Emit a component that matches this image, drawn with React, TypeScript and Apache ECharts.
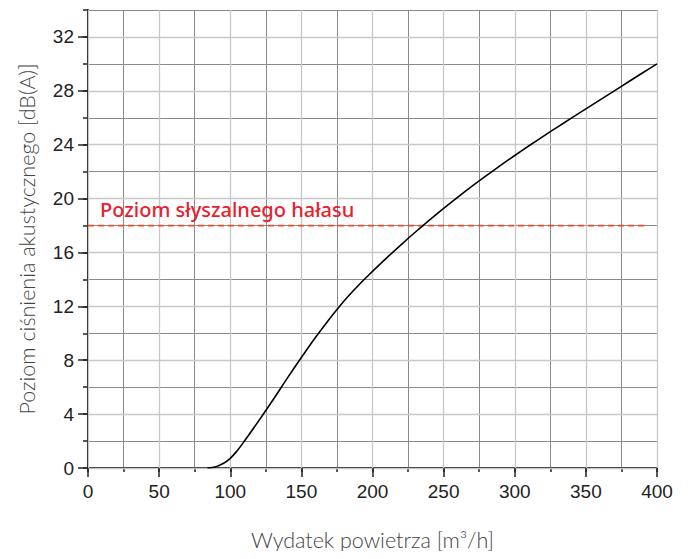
import React, { useEffect, useRef } from "react";
import * as echarts from "echarts";

const flowX: number[] = [84, 90, 95, 100, 105, 110, 120, 130, 140, 150, 160, 170, 180, 190, 200, 210, 220, 230, 240, 250, 260, 270, 280, 290, 300, 310, 320, 330, 340, 350, 360, 370, 380, 390, 400];
const noiseY: number[] = [0, 0.1, 0.33, 0.72, 1.3, 2.0, 3.5, 5.05, 6.65, 8.2, 9.7, 11.1, 12.4, 13.55, 14.6, 15.6, 16.57, 17.5, 18.4, 19.27, 20.11, 20.92, 21.7, 22.46, 23.2, 23.92, 24.62, 25.31, 25.99, 26.66, 27.33, 28.0, 28.67, 29.34, 30.0];
const thresholdX: number[] = [0, 393];
const thresholdValue = 18;
const thresholdLabel = "Poziom słyszalnego hałasu";
const xMajorTicks: number[] = [0, 50, 100, 150, 200, 250, 300, 350, 400];
const yMajorTicks: number[] = [0, 4, 8, 12, 16, 20, 24, 28, 32];
const xTitle = "Wydatek powietrza [m³/h]";
const yTitle = "Poziom ciśnienia akustycznego [dB(A)]";

const DARK = "#8a8a8a";
const LIGHT = "#c8c8c8";
const labelFont = "'Liberation Sans', Arial, sans-serif";
const titleFont = "Lato, 'Noto Sans', sans-serif";

export default function App() {
  const ref = useRef<HTMLDivElement>(null);
  useEffect(() => {
    if (!ref.current) return;
    const chart = echarts.init(ref.current, null, { renderer: "svg" });
    const grid = { left: 88, right: 33, top: 10, bottom: 91, outerBoundsMode: "none" };
    chart.setOption({
      animation: false,
      backgroundColor: "#ffffff",
      grid,
      xAxis: [
        {
          type: "value", min: 0, max: 400, interval: 25, position: "bottom",
          axisLine: { show: true, onZero: false, lineStyle: { color: "#222", width: 2 } },
          axisTick: { show: true, length: 4, lineStyle: { color: "#222", width: 1.5 } },
          axisLabel: { show: false },
          splitLine: { show: true, lineStyle: { color: DARK, width: 1 } },
          name: xTitle, nameLocation: "middle", nameGap: 61,
          nameTextStyle: { fontFamily: titleFont, fontWeight: 300, fontSize: 21.5, color: "#444" },
          z: 1,
        },
        {
          type: "value", min: 0, max: 400, interval: 50, position: "bottom",
          axisLine: { show: false, onZero: false },
          axisTick: { show: true, length: 9, customValues: xMajorTicks, lineStyle: { color: "#222", width: 1.5 } },
          axisLabel: { show: true, customValues: xMajorTicks, margin: 14, fontFamily: labelFont, fontSize: 19, color: "#222" },
          splitLine: { show: true, lineStyle: { color: LIGHT, width: 1.3 } },
          z: 2,
        },
      ],
      yAxis: [
        {
          type: "value", min: 0, max: 34, interval: 2, position: "left",
          axisLine: { show: true, onZero: false, lineStyle: { color: "#222", width: 2 } },
          axisTick: { show: true, length: 5, lineStyle: { color: "#222", width: 1.5 } },
          axisLabel: { show: false },
          splitLine: { show: true, lineStyle: { color: DARK, width: 1 } },
          name: yTitle, nameLocation: "middle", nameGap: 50,
          nameTextStyle: { fontFamily: titleFont, fontWeight: 300, fontSize: 21.5, color: "#444" },
          z: 1,
        },
        {
          type: "value", min: 0, max: 34, interval: 4, position: "left",
          axisLine: { show: false, onZero: false },
          axisTick: { show: true, length: 10, customValues: yMajorTicks, lineStyle: { color: "#222", width: 1.5 } },
          axisLabel: { show: true, customValues: yMajorTicks, margin: 14, fontFamily: labelFont, fontSize: 19, color: "#222" },
          splitLine: { show: true, lineStyle: { color: LIGHT, width: 1.3 } },
          z: 2,
        },
      ],
      series: [
        {
          type: "line",
          xAxisIndex: 0, yAxisIndex: 0,
          data: thresholdX.map((x) => [x, thresholdValue]),
          showSymbol: false,
          lineStyle: { color: "#f04a22", width: 1.7, type: [6, 4] },
          z: 3,
          silent: true,
        },
        {
          type: "line",
          xAxisIndex: 0, yAxisIndex: 0,
          data: flowX.map((x, i) => [x, noiseY[i]]),
          showSymbol: false,
          smooth: 0.4,
          lineStyle: { color: "#000", width: 1.6 },
          z: 4,
          silent: true,
        },
      ],
      graphic: [
        {
          type: "text",
          left: 100,
          top: 199,
          style: {
            text: thresholdLabel,
            fill: "#e8212e",
            font: "500 20px 'Noto Sans', sans-serif",
          },
          z: 10,
        },
      ],
    });
    return () => chart.dispose();
  }, []);
  return <div ref={ref} style={{ width: 690, height: 559, margin: -8 }} />;
}
